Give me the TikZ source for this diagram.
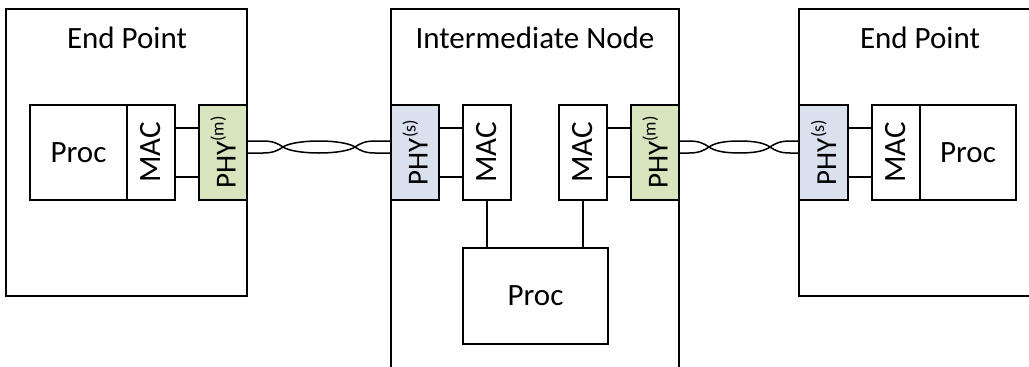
\documentclass[tikz,border=0pt]{standalone}
\usepackage{fontspec}
\setmainfont{Carlito}
\definecolor{phygreen}{RGB}{215,228,189}
\definecolor{phyblue}{RGB}{217,225,238}
\newcommand\phylbl[1]{\rotatebox{90}{\fontsize{29}{35}\selectfont PHY\raisebox{12pt}{\fontsize{18}{20}\selectfont(#1)}}}
% one strand: #1 xL, #2 xR, #3 c1, #4 c2, #5 outer y, #6 inner y, #7 sign
\newcommand\strand[7]{%
  \draw[wire] (#1,#5) -- (#3-20,#5) .. controls (#3-10,#5) and (#3-5,{147+#7*(-3.5)}) .. (#3,147)
     .. controls (#3+5,{147+#7*3.5}) and ({(#3+#4)/2-17},#6) .. ({(#3+#4)/2},#6)
     .. controls ({(#3+#4)/2+17},#6) and (#4-5,{147+#7*3.5}) .. (#4,147)
     .. controls (#4+5,{147+#7*(-3.5)}) and (#4+10,#5) .. (#4+20,#5) -- (#2,#5);}
\newcommand\tpair[4]{\strand{#1}{#2}{#3}{#4}{141}{153}{1}\strand{#1}{#2}{#3}{#4}{153}{141}{-1}}
\begin{document}
\begin{tikzpicture}[x=1pt,y=-1pt,
  box/.style={draw=black,line width=1.5pt,fill=white,inner sep=0pt,outer sep=0pt},
  wire/.style={draw=black,line width=1.5pt},
  lbl/.style={font=\fontsize{31}{37}\selectfont,inner sep=0pt}]
\clip (0,0) rectangle (1029,367);
\fill[white] (0,0) rectangle (1029,367);
% left end point
\node[box,minimum width=241pt,minimum height=287pt] (epL) at (126.5,152.5) {};
\node[lbl,anchor=base] (epLt) at (127,48) {End Point};
\node[box,lbl,minimum width=97pt,minimum height=95pt] (procL) at (78.5,152.5) {Proc};
\node[box,lbl,minimum width=48pt,minimum height=95pt] (macL) at (151,152.5) {\rotatebox{90}{MAC}};
\node[box,lbl,fill=phygreen,minimum width=48pt,minimum height=95pt] (phyLm) at (223,152.5) {\phylbl{m}};
\draw[wire] (macL.east |- 0,128) -- (phyLm.west |- 0,128);
\draw[wire] (macL.east |- 0,177) -- (phyLm.west |- 0,177);
% intermediate node
\node[box,minimum width=288pt,minimum height=391pt] (inter) at (535,204.5) {};
\node[lbl,anchor=base] (intert) at (535,48) {Intermediate Node};
\node[box,lbl,fill=phyblue,minimum width=48pt,minimum height=95pt] (phyIs) at (415,152.5) {\phylbl{s}};
\node[box,lbl,minimum width=48pt,minimum height=95pt] (macI1) at (487,152.5) {\rotatebox{90}{MAC}};
\node[box,lbl,minimum width=48pt,minimum height=95pt] (macI2) at (583,152.5) {\rotatebox{90}{MAC}};
\node[box,lbl,fill=phygreen,minimum width=48pt,minimum height=95pt] (phyIm) at (655,152.5) {\phylbl{m}};
\node[box,lbl,minimum width=145pt,minimum height=96pt] (procI) at (535.5,296) {Proc};
\draw[wire] (phyIs.east |- 0,128) -- (macI1.west |- 0,128);
\draw[wire] (phyIs.east |- 0,177) -- (macI1.west |- 0,177);
\draw[wire] (macI2.east |- 0,128) -- (phyIm.west |- 0,128);
\draw[wire] (macI2.east |- 0,177) -- (phyIm.west |- 0,177);
\draw[wire] (macI1.south) -- (macI1.south |- procI.north);
\draw[wire] (macI2.south) -- (macI2.south |- procI.north);
% right end point
\node[box,minimum width=261pt,minimum height=287pt] (epR) at (929.5,152.5) {};
\node[lbl,anchor=base] (epRt) at (920,48) {End Point};
\node[box,lbl,fill=phyblue,minimum width=49pt,minimum height=95pt] (phyRs) at (823.5,152.5) {\phylbl{s}};
\node[box,lbl,minimum width=48pt,minimum height=95pt] (macR) at (896,152.5) {\rotatebox{90}{MAC}};
\node[box,lbl,minimum width=96pt,minimum height=95pt] (procR) at (968,152.5) {Proc};
\draw[wire] (phyRs.east |- 0,128) -- (macR.west |- 0,128);
\draw[wire] (phyRs.east |- 0,177) -- (macR.west |- 0,177);
% twisted pair cables
\tpair{247}{391}{283}{355}
\tpair{679}{799}{709}{770}
\end{tikzpicture}
\end{document}
